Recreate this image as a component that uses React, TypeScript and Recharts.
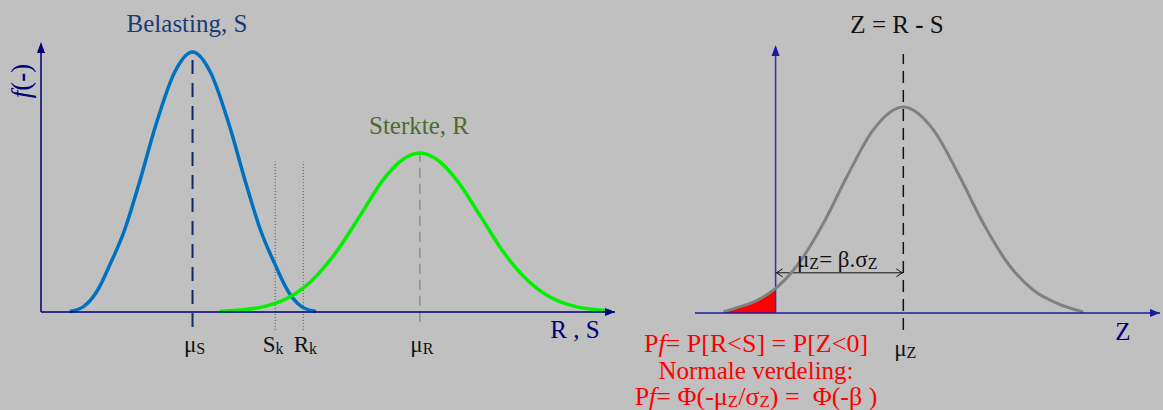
import { ComposedChart, Line, Area, XAxis, YAxis, ReferenceLine, ReferenceDot } from "recharts";

// left panel: load S and resistance R (arbitrary units, axis 0..100)
const S_X = [5.0, 7.4, 9.7, 12.0, 14.5, 17.0, 20.1, 23.3, 26.4, 29.5, 32.7, 35.8, 38.3, 40.8, 43.1, 45.4, 47.9];
const S_Y = [0.2, 2.0, 7.5, 17.5, 30.0, 46.9, 69.9, 88.9, 96.3, 88.9, 69.9, 46.9, 30.0, 17.5, 7.5, 2.0, 0.2];
const R_X = [31.2, 34.7, 38.8, 43.0, 47.2, 51.4, 55.6, 59.7, 62.9, 66.0, 69.1, 72.3, 76.5, 80.6, 84.8, 89.0, 93.2, 97.4, 99.4];
const R_Y = [0.2, 0.7, 2.0, 5.2, 11.7, 22.1, 35.7, 49.2, 56.3, 58.9, 56.3, 49.2, 35.7, 22.1, 11.7, 5.2, 2.0, 0.7, 0.2];

const MU_S = 26.4;
const S_K = 40.8;
const R_K = 45.7;
const MU_R = 66.0;
const LEFT_TICKS = [MU_S, S_K, R_K, MU_R];
const LEFT_LABELS = [["μ", "S"], ["S", "k"], ["R", "k"], ["μ", "R"]];

// right panel: Z = R - S, in units of sigma_Z
const Z_X = [-0.84, -0.6, -0.4, -0.2, 0, 0.36, 0.76, 1.16, 1.56, 2.06, 2.56, 2.96, 3.36, 3.76, 4.16, 4.56, 4.96];
const Z_Y = [0.4, 2.2, 3.7, 6.0, 9.2, 18.1, 33.0, 51.3, 67.9, 76.9, 67.9, 51.3, 33.0, 18.1, 8.5, 3.4, 0.4];
const TAIL_X = [-0.84, -0.6, -0.4, -0.2, 0];
const TAIL_Y = [0.4, 2.2, 3.7, 6.0, 9.2];
const MU_Z = 2.06;
const RIGHT_TICKS = [MU_Z];
const RIGHT_LABELS = [["μ", "Z"]];

const sData = S_X.map((x, i) => ({ x, y: S_Y[i] }));
const rData = R_X.map((x, i) => ({ x, y: R_Y[i] }));
const zData = Z_X.map((x, i) => ({ x, y: Z_Y[i] }));
const tailData = TAIL_X.map((x, i) => ({ x, y: TAIL_Y[i] }));

const FONT = "'Liberation Serif', 'Times New Roman', serif";
const NAVY = "#00007a";

const makeTick = (ticks: number[], labels: string[][], off: number) => (props: any) => {
  const { x, y, payload } = props;
  const idx = ticks.indexOf(payload.value);
  if (idx < 0) return <g />;
  const [main, sub] = labels[idx];
  // S_k label sits a little left of its line in the original
  const dx = main === "S" ? -2 : 2;
  return (
    <text x={x + dx} y={y + off} textAnchor="middle" fontSize={23} fill="#111" fontFamily={FONT}>
      <tspan>{main}</tspan>
      <tspan fontSize={16} dy={2}>{sub}</tspan>
    </text>
  );
};

const arrowUp = (color: string) => (p: any) => (
  <path d={`M${p.cx},${p.cy} L${p.cx - 4},${p.cy + 11} L${p.cx + 4},${p.cy + 11} Z`} fill={color} />
);
const arrowRight = (color: string) => (p: any) => (
  <path d={`M${p.cx},${p.cy} L${p.cx - 10},${p.cy - 4} L${p.cx - 10},${p.cy + 4} Z`} fill={color} />
);
const chevronLeft = (p: any) => (
  <path d={`M${p.cx + 7},${p.cy - 4} L${p.cx + 1},${p.cy} L${p.cx + 7},${p.cy + 4}`} stroke="#111" fill="none" />
);
const chevronRight = (p: any) => (
  <path d={`M${p.cx - 7},${p.cy - 4} L${p.cx - 1},${p.cy} L${p.cx - 7},${p.cy + 4}`} stroke="#111" fill="none" />
);

function LeftPanel() {
  return (
    <ComposedChart width={640} height={410} margin={{ top: 42, right: 25, bottom: 68, left: 41 }}>
      <XAxis
        dataKey="x"
        type="number"
        domain={[0, 100]}
        ticks={LEFT_TICKS}
        height={30}
        tickSize={0}
        tickMargin={0}
        tickLine={false}
        axisLine={{ stroke: NAVY, strokeWidth: 1.5 }}
        tick={makeTick(LEFT_TICKS, LEFT_LABELS, 40)}
        interval={0}
        allowDuplicatedCategory={false}
      />
      <YAxis type="number" domain={[0, 100]} hide />
      <ReferenceLine segment={[{ x: 0, y: 0 }, { x: 0, y: 99 }]} stroke={NAVY} strokeWidth={1.5} ifOverflow="visible" />
      <ReferenceDot x={0} y={100} r={0} shape={arrowUp(NAVY)} ifOverflow="visible" />
      <ReferenceDot x={100} y={0} r={0} shape={arrowRight(NAVY)} ifOverflow="visible" />
      <ReferenceLine segment={[{ x: MU_S, y: -5.6 }, { x: MU_S, y: 96.3 }]} stroke="#14286a" strokeWidth={2} strokeDasharray="14 9" ifOverflow="visible" />
      <ReferenceLine segment={[{ x: MU_R, y: -3.6 }, { x: MU_R, y: 58.9 }]} stroke="#8c9472" strokeWidth={1.5} strokeDasharray="10 6" ifOverflow="visible" />
      <ReferenceLine segment={[{ x: S_K, y: -6.7 }, { x: S_K, y: 55.7 }]} stroke="#4a4a78" strokeWidth={1} strokeDasharray="1 2" ifOverflow="visible" />
      <ReferenceLine segment={[{ x: R_K, y: -6.7 }, { x: R_K, y: 55.7 }]} stroke="#5e6040" strokeWidth={1} strokeDasharray="1 2" ifOverflow="visible" />
      <Line data={sData} dataKey="y" type="monotone" stroke="#0070c0" strokeWidth={3.5} dot={false} isAnimationActive={false} />
      <Line data={rData} dataKey="y" type="monotone" stroke="#00f000" strokeWidth={3.5} dot={false} isAnimationActive={false} />
    </ComposedChart>
  );
}

function RightPanel() {
  return (
    <ComposedChart width={523} height={410} margin={{ top: 45, right: 3, bottom: 67, left: 55 }}>
      <XAxis
        dataKey="x"
        type="number"
        domain={[-1.3, 6.2]}
        ticks={RIGHT_TICKS}
        height={30}
        tickSize={0}
        tickMargin={0}
        tickLine={false}
        axisLine={{ stroke: "#1a1aa0", strokeWidth: 1.5 }}
        tick={makeTick(RIGHT_TICKS, RIGHT_LABELS, 43)}
        interval={0}
        allowDuplicatedCategory={false}
      />
      <YAxis type="number" domain={[0, 100]} hide />
      <Area data={tailData} dataKey="y" type="monotone" fill="#ff0000" fillOpacity={1} stroke="none" isAnimationActive={false} />
      <ReferenceLine segment={[{ x: 0, y: 0 }, { x: 0, y: 99 }]} stroke="#3030b0" strokeWidth={1.5} ifOverflow="visible" />
      <ReferenceDot x={0} y={100} r={0} shape={arrowUp("#1a1aa0")} ifOverflow="visible" />
      <ReferenceDot x={6.2} y={0} r={0} shape={arrowRight("#1a1aa0")} ifOverflow="visible" />
      <ReferenceLine segment={[{ x: MU_Z, y: -6.3 }, { x: MU_Z, y: 96.6 }]} stroke="#111" strokeWidth={1.5} strokeDasharray="12 7" ifOverflow="visible" />
      <ReferenceLine segment={[{ x: 0, y: 15 }, { x: MU_Z, y: 15 }]} stroke="#111" strokeWidth={1} ifOverflow="visible" />
      <ReferenceDot x={0} y={15} r={0} shape={chevronLeft} ifOverflow="visible" />
      <ReferenceDot x={MU_Z} y={15} r={0} shape={chevronRight} ifOverflow="visible" />
      <Line data={zData} dataKey="y" type="monotone" stroke="#808080" strokeWidth={3} dot={false} isAnimationActive={false} />
    </ComposedChart>
  );
}

function Annotations() {
  const red = "#ff0000";
  return (
    <svg width={1163} height={410} style={{ position: "absolute", left: 0, top: 0, pointerEvents: "none" }} fontFamily={FONT}>
      <text x={187} y={32} textAnchor="middle" fontSize={25} fill="#1c3a78">Belasting, S</text>
      <text x={419} y={134} textAnchor="middle" fontSize={25} fill="#4f6a2c">Sterkte, R</text>
      <text transform="translate(30,81) rotate(-90)" textAnchor="middle" fontSize={27} fill={NAVY}>
        <tspan fontStyle="italic">f</tspan>(<tspan fontWeight="bold">-</tspan>)
      </text>
      <text x={575} y={338} textAnchor="middle" fontSize={25} fill={NAVY}>R , S</text>
      <text x={897} y={33} textAnchor="middle" fontSize={25} fill="#111">Z = R <tspan fontWeight="bold">-</tspan> S</text>
      <text x={1123} y={340} textAnchor="middle" fontSize={25} fill={NAVY}>Z</text>
      <text x={797} y={267} fontSize={23} fill="#111">
        μ<tspan fontSize={16} dy={2}>Z</tspan><tspan dy={-2}>= β.σ</tspan><tspan fontSize={16} dy={2}>Z</tspan>
      </text>
      <text x={756} y={352} textAnchor="middle" fontSize={26} fill={red}>
        P<tspan fontStyle="italic">f</tspan>= P[R&lt;S] = P[Z&lt;0]
      </text>
      <text x={756} y={379} textAnchor="middle" fontSize={25} fill={red}>Normale verdeling:</text>
      <text x={756} y={405} textAnchor="middle" fontSize={26} fill={red} style={{ whiteSpace: "pre" }}>
        P<tspan fontStyle="italic">f</tspan>= Φ(-μ<tspan fontSize={17} dy={2}>Z</tspan><tspan dy={-2}>/σ</tspan>
        <tspan fontSize={17} dy={2}>Z</tspan><tspan dy={-2}>{") =\u00a0\u00a0Φ(-β )"}</tspan>
      </text>
    </svg>
  );
}

export default function App() {
  return (
    <div style={{ position: "absolute", left: 0, top: 0, width: 1163, height: 410, background: "#c0c0c0", fontFamily: FONT }}>
      <div style={{ position: "absolute", left: 0, top: 0 }}>
        <LeftPanel />
      </div>
      <div style={{ position: "absolute", left: 640, top: 0 }}>
        <RightPanel />
      </div>
      <Annotations />
    </div>
  );
}
